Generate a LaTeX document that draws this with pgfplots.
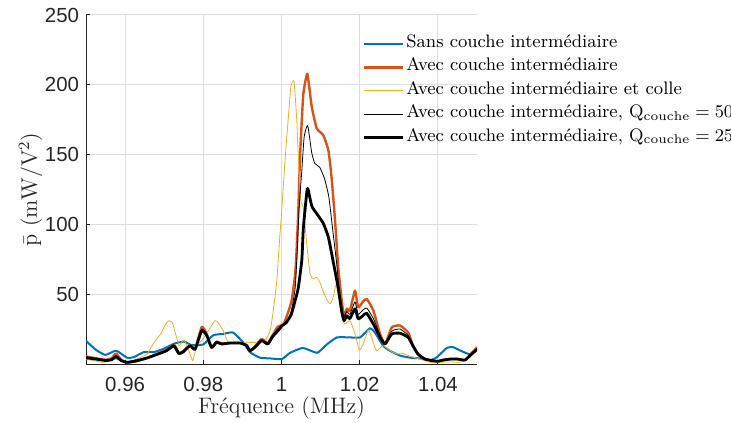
\documentclass[border=0pt]{standalone}
\usepackage{fontspec}
\usepackage{pgfplots}
\pgfplotsset{compat=1.18}
\usepackage{pgfplotstable}
\newfontfamily\ticksans{Liberation Sans}
\definecolor{mblue}{rgb}{0,0.447,0.741}
\definecolor{morange}{rgb}{0.85,0.325,0.098}
\definecolor{myellow}{rgb}{0.929,0.694,0.125}
\definecolor{maxis}{rgb}{0.15,0.15,0.15}
\definecolor{mgrid}{rgb}{0.87,0.87,0.87}

% Sans couche intermediaire
\pgfplotstableread{
f p
0.9500 17
0.9526 10.5
0.9550 7
0.9577 10
0.9605 5
0.9623 5.5
0.9648 9
0.9674 9
0.9700 11.5
0.9725 15
0.9751 16.5
0.9770 14
0.9800 14.5
0.9825 21
0.9850 22
0.9876 23
0.9902 16
0.9919 9
0.9945 5
0.9971 4.5
1.0001 4
1.0022 8.5
1.0055 12
1.0091 8.5
1.0116 14.5
1.0142 19.5
1.0175 19.5
1.0201 19.5
1.0226 26
1.0239 23
1.0260 13.5
1.0277 10
1.0303 6.5
1.0329 5
1.0354 4.5
1.0380 3.2
1.0398 5.5
1.0423 12
1.0439 12.5
1.0462 9.5
1.0482 7.5
1.0500 11
}\sanscouche

% Avec couche intermediaire
\pgfplotstableread{
f p
0.9500 6
0.9526 4.5
0.9550 3.5
0.9565 4.5
0.9577 8
0.9590 3.5
0.9605 1.5
0.9630 2.5
0.9656 4.8
0.9680 7.5
0.9706 10.5
0.9725 14
0.9737 8.5
0.9748 9.5
0.9766 14
0.9779 11.5
0.9796 27
0.9809 22
0.9821 12
0.9834 16.5
0.9847 15
0.9868 15.5
0.9894 15.5
0.9911 14
0.9919 10
0.9932 13
0.9949 18.4
0.9965 15.5
0.9977 21
0.9990 27
1.0005 29
1.0017 37.5
1.0026 46
1.0035 65
1.0039 84
1.0043 110
1.0047 146
1.0052 175
1.0056 194
1.0066 208
1.0077 185
1.0090 169
1.0107 164
1.0120 153
1.0128 134
1.0137 103
1.0145 70
1.0154 46
1.0160 34
1.0167 40
1.0175 38.7
1.0188 53
1.0196 41
1.0208 45
1.0218 47
1.0235 38.7
1.0252 22
1.0265 15
1.0282 26.7
1.0303 28
1.0324 23
1.0336 14
1.0349 7.6
1.0367 4
1.0387 2.9
1.0400 2.4
1.0413 3.3
1.0431 4
1.0451 4
1.0469 3.3
1.0482 7
1.0500 12.5
}\aveccouche

% Avec couche intermediaire et colle
\pgfplotstableread{
f p
0.9500 4
0.9520 2.9
0.9546 1.7
0.9572 4
0.9589 2.9
0.9606 1.7
0.9630 4
0.9656 7.6
0.9674 16
0.9691 22
0.9704 29
0.9712 31.5
0.9721 30
0.9729 22
0.9738 13.6
0.9746 16.5
0.9751 17.7
0.9762 11
0.9773 2.9
0.9783 13.6
0.9796 17.2
0.9813 24.4
0.9830 31.5
0.9838 30
0.9851 24.4
0.9864 16
0.9885 16
0.9911 16
0.9937 16
0.9958 17.2
0.9971 24.4
0.9979 38.7
0.9988 60
0.9994 85
1.0001 112
1.0009 146
1.0017 175
1.0024 199
1.0032 202.5
1.0039 175
1.0043 149
1.0049 118
1.0056 112
1.0064 88
1.0073 65
1.0081 61.5
1.0090 62.5
1.0098 59
1.0107 52
1.0115 47
1.0124 43.5
1.0132 48
1.0139 57
1.0145 50
1.0154 36
1.0162 29
1.0175 31.5
1.0188 22
1.0199 10.5
1.0209 14.8
1.0222 25
1.0231 19
1.0243 10
1.0260 13.6
1.0278 10
1.0295 7.6
1.0310 8
1.0329 6
1.0354 4
1.0380 1.7
1.0405 1.7
1.0431 2
1.0457 1.7
1.0474 4
1.0495 9
1.0500 10
}\colle

% Q couche = 50
\pgfplotstableread{
f p
0.9500 5.5
0.9526 4.2
0.9550 3.2
0.9565 3.8
0.9577 6.5
0.9590 3.2
0.9605 1.6
0.9630 2.7
0.9656 4.8
0.9680 7.3
0.9706 10.2
0.9725 13.8
0.9737 8.2
0.9748 9.2
0.9766 13.8
0.9779 11.2
0.9796 25.5
0.9809 21.3
0.9821 12.2
0.9834 16.2
0.9847 14.9
0.9868 15.5
0.9894 15.5
0.9911 13.8
0.9919 10
0.9932 12.7
0.9949 17.8
0.9965 15.1
0.9977 20.5
0.9990 25.5
1.0002 28.5
1.0014 31
1.0025 38
1.0035 55
1.0040 80
1.0045 112
1.0052 139
1.0058 163
1.0067 171
1.0077 152
1.0085 144
1.0098 141
1.0110 133
1.0121 120
1.0132 94
1.0142 70
1.0150 46
1.0158 34
1.0167 38
1.0175 36
1.0188 45
1.0196 36
1.0208 39
1.0218 40.5
1.0235 33
1.0252 21
1.0265 15
1.0282 24
1.0303 25.5
1.0324 21
1.0336 13.8
1.0349 7.6
1.0367 4
1.0387 2.9
1.0400 2.4
1.0413 3.3
1.0431 4
1.0451 4
1.0469 3.3
1.0482 6.7
1.0500 11.5
}\qcinquante

% Q couche = 25
\pgfplotstableread{
f p
0.9500 5
0.9526 4
0.9550 3
0.9565 3.5
0.9577 5.7
0.9590 3
0.9605 1.7
0.9630 2.9
0.9656 4.8
0.9680 7.2
0.9706 10
0.9725 13.6
0.9737 8
0.9748 9
0.9766 13.6
0.9779 11
0.9796 24.4
0.9809 20.8
0.9821 12.4
0.9834 16
0.9847 14.8
0.9868 15.5
0.9894 15.5
0.9911 13.6
0.9919 10
0.9932 12.4
0.9949 17.2
0.9965 14.8
0.9977 20
0.9990 24
1.0002 28
1.0012 30
1.0025 36
1.0035 46
1.0043 55
1.0052 75
1.0056 98
1.0066 126
1.0072 120
1.0078 113
1.0090 108
1.0107 101
1.0120 91
1.0132 74
1.0145 55
1.0154 38
1.0160 31.5
1.0167 35
1.0175 33
1.0188 40
1.0196 32.8
1.0208 35
1.0218 36.8
1.0235 29
1.0252 19.6
1.0265 14.8
1.0282 22
1.0303 22.5
1.0324 19.6
1.0336 13.6
1.0349 7.6
1.0367 4
1.0387 2.9
1.0400 2.4
1.0413 3.3
1.0431 4
1.0451 4
1.0469 3.3
1.0482 6.5
1.0500 11
}\qvingtcinq

\begin{document}
\begin{tikzpicture}
\useasboundingbox (-43bp,-29.5bp) rectangle (322.5bp,182bp);
\begin{axis}[
  width=195.5bp, height=174.5bp, scale only axis,
  at={(0,0)}, anchor=south west,
  xmin=0.95, xmax=1.05, ymin=0.5, ymax=250,
  xtick={0.96,0.98,1,1.02,1.04},
  xticklabels={0.96,0.98,1,1.02,1.04},
  ytick={50,100,150,200,250},
  axis x line*=bottom, axis y line*=left,
  axis line style={-, maxis, line width=0.5bp},
  tick align=inside, major tick length=2bp,
  tick style={maxis, line width=0.5bp},
  grid=major, major grid style={mgrid, line width=0.5bp},
  /pgf/number format/assume math mode=true,
  tick label style={font=\ticksans\fontsize{10.2bp}{12bp}\selectfont, text=maxis},
  xticklabel style={yshift=-3bp},
  xlabel={Fréquence (MHz)},
  xlabel style={font=\fontsize{11.2bp}{13bp}\selectfont, text=maxis,
    at={(axis description cs:0.5,0)}, anchor=base, yshift=-24.5bp},
  ylabel={$\bar{\mathrm{p}}\ (\mathrm{mW/V^2})$},
  ylabel style={font=\fontsize{11.2bp}{13bp}\selectfont, text=maxis,
    at={(axis description cs:-0.142,0.5)}, anchor=center},
  legend style={at={(axis description cs:0.7084,0.951)}, anchor=north west,
    draw=none, fill=none, inner sep=0pt, outer sep=0pt,
    font=\fontsize{9.05bp}{11bp}\selectfont, text=black,
    nodes={inner xsep=0.75bp, inner ysep=0pt, text height=7.6bp, text depth=4.15bp},
    row sep=0pt, column sep=0pt},
  legend cell align=left,
  legend image code/.code={\path (0bp,-2bp); \draw[#1] (0bp,0bp) -- (19.5bp,0bp);},
  every axis plot/.append style={line join=round},
]
\addplot[mblue, line width=1bp, smooth, tension=0.3] table[x=f, y=p] {\sanscouche};
\addlegendentry{Sans couche intermédiaire}
\addplot[morange, line width=1.2bp, smooth, tension=0.3] table[x=f, y=p] {\aveccouche};
\addlegendentry{Avec couche intermédiaire}
\addplot[myellow, line width=0.4bp, smooth, tension=0.3] table[x=f, y=p] {\colle};
\addlegendentry{Avec couche intermédiaire et colle}
\addplot[black, line width=0.4bp, smooth, tension=0.3] table[x=f, y=p] {\qcinquante};
\addlegendentry{Avec couche intermédiaire, $\mathrm{Q_{couche}}=50$}
\addplot[black, line width=1.4bp, smooth, tension=0.3] table[x=f, y=p] {\qvingtcinq};
\addlegendentry{Avec couche intermédiaire, $\mathrm{Q_{couche}}=25$}
\end{axis}
\end{tikzpicture}
\end{document}
